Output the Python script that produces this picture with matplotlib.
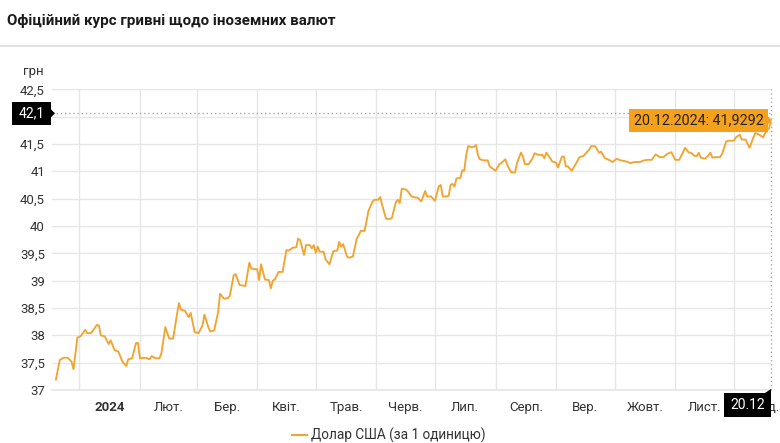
import matplotlib
matplotlib.use('Agg')
import matplotlib.pyplot as plt
import matplotlib.dates as mdates
from matplotlib.transforms import IdentityTransform
from matplotlib.patches import Rectangle, Polygon
from matplotlib.lines import Line2D
import numpy as np

plt.rcParams['font.family'] = ['Roboto', 'DejaVu Sans']

title = "Офіційний курс гривні щодо іноземних валют"
unit_label = "грн"
series_name = "Долар США (за 1 одиницю)"

dates = [
    "2023-12-20", "2023-12-22", "2023-12-24", "2023-12-26", "2023-12-28", "2023-12-29", "2023-12-31",
    "2024-01-01", "2024-01-02", "2024-01-04", "2024-01-05", "2024-01-07", "2024-01-10", "2024-01-11",
    "2024-01-12", "2024-01-14", "2024-01-16", "2024-01-17", "2024-01-19", "2024-01-21", "2024-01-23",
    "2024-01-25", "2024-01-26", "2024-01-28", "2024-01-30", "2024-01-31", "2024-02-01", "2024-02-04",
    "2024-02-06", "2024-02-07", "2024-02-09", "2024-02-11", "2024-02-12", "2024-02-14", "2024-02-16",
    "2024-02-18", "2024-02-20", "2024-02-21", "2024-02-22", "2024-02-24", "2024-02-26", "2024-02-27",
    "2024-02-29", "2024-03-02", "2024-03-04", "2024-03-05", "2024-03-07", "2024-03-08", "2024-03-10",
    "2024-03-12", "2024-03-13", "2024-03-15", "2024-03-17", "2024-03-18", "2024-03-20", "2024-03-21",
    "2024-03-23", "2024-03-25", "2024-03-26", "2024-03-28", "2024-03-29", "2024-03-31", "2024-04-01",
    "2024-04-02", "2024-04-03", "2024-04-05", "2024-04-07", "2024-04-08", "2024-04-09", "2024-04-10",
    "2024-04-12", "2024-04-14", "2024-04-16", "2024-04-17", "2024-04-18", "2024-04-19", "2024-04-21",
    "2024-04-22", "2024-04-23", "2024-04-25", "2024-04-26", "2024-04-28", "2024-04-29", "2024-04-30",
    "2024-05-01", "2024-05-02", "2024-05-03", "2024-05-05", "2024-05-06", "2024-05-08", "2024-05-10",
    "2024-05-12", "2024-05-13", "2024-05-14", "2024-05-15", "2024-05-17", "2024-05-18", "2024-05-20",
    "2024-05-22", "2024-05-23", "2024-05-24", "2024-05-26", "2024-05-28", "2024-05-30", "2024-05-31",
    "2024-06-02", "2024-06-03", "2024-06-04", "2024-06-06", "2024-06-08", "2024-06-09", "2024-06-11",
    "2024-06-12", "2024-06-13", "2024-06-14", "2024-06-16", "2024-06-17", "2024-06-19", "2024-06-21",
    "2024-06-22", "2024-06-24", "2024-06-26", "2024-06-27", "2024-06-29", "2024-07-01", "2024-07-03",
    "2024-07-04", "2024-07-05", "2024-07-07", "2024-07-08", "2024-07-09", "2024-07-10", "2024-07-11",
    "2024-07-12", "2024-07-14", "2024-07-15", "2024-07-16", "2024-07-17", "2024-07-18", "2024-07-20",
    "2024-07-21", "2024-07-22", "2024-07-23", "2024-07-24", "2024-07-26", "2024-07-28", "2024-07-29",
    "2024-08-01", "2024-08-03", "2024-08-04", "2024-08-06", "2024-08-07", "2024-08-09", "2024-08-11",
    "2024-08-12", "2024-08-14", "2024-08-15", "2024-08-16", "2024-08-18", "2024-08-20", "2024-08-21",
    "2024-08-23", "2024-08-25", "2024-08-26", "2024-08-27", "2024-08-29", "2024-08-30", "2024-09-01",
    "2024-09-02", "2024-09-04", "2024-09-05", "2024-09-06", "2024-09-07", "2024-09-09", "2024-09-11",
    "2024-09-13", "2024-09-15", "2024-09-16", "2024-09-18", "2024-09-19", "2024-09-21", "2024-09-23",
    "2024-09-24", "2024-09-26", "2024-09-28", "2024-09-30", "2024-10-02", "2024-10-04", "2024-10-07",
    "2024-10-09", "2024-10-11", "2024-10-14", "2024-10-16", "2024-10-18", "2024-10-20", "2024-10-22",
    "2024-10-24", "2024-10-26", "2024-10-28", "2024-10-30", "2024-10-31", "2024-11-01", "2024-11-03",
    "2024-11-05", "2024-11-06", "2024-11-08", "2024-11-09", "2024-11-11", "2024-11-12", "2024-11-13",
    "2024-11-14", "2024-11-16", "2024-11-17", "2024-11-19", "2024-11-20", "2024-11-22", "2024-11-24",
    "2024-11-25", "2024-11-27", "2024-11-28", "2024-12-01", "2024-12-02", "2024-12-04", "2024-12-05",
    "2024-12-07", "2024-12-09", "2024-12-11", "2024-12-12", "2024-12-14", "2024-12-16", "2024-12-17",
    "2024-12-19", "2024-12-20",
]
values = [
    37.19, 37.55, 37.59, 37.59, 37.52, 37.38, 37.96,
    37.97, 38.00, 38.10, 38.04, 38.04, 38.19, 38.18,
    38.00, 37.98, 37.84, 37.91, 37.73, 37.70, 37.52,
    37.44, 37.56, 37.58, 37.86, 37.86, 37.58, 37.59,
    37.56, 37.62, 37.58, 37.58, 37.67, 38.15, 37.94,
    37.94, 38.39, 38.59, 38.47, 38.45, 38.33, 38.41,
    38.06, 38.04, 38.18, 38.38, 38.15, 38.07, 38.09,
    38.42, 38.76, 38.67, 38.68, 38.72, 39.10, 39.12,
    38.92, 38.91, 38.90, 39.33, 39.22, 39.21, 39.21,
    39.01, 39.30, 39.02, 39.01, 38.86, 39.00, 39.02,
    39.16, 39.16, 39.56, 39.55, 39.57, 39.60, 39.61,
    39.77, 39.74, 39.47, 39.65, 39.65, 39.59, 39.65,
    39.51, 39.62, 39.53, 39.53, 39.39, 39.30, 39.54,
    39.55, 39.71, 39.62, 39.67, 39.44, 39.42, 39.44,
    39.77, 39.83, 39.91, 39.91, 40.28, 40.44, 40.48,
    40.48, 40.53, 40.38, 40.13, 40.13, 40.15, 40.44,
    40.48, 40.42, 40.68, 40.67, 40.64, 40.54, 40.52,
    40.52, 40.45, 40.64, 40.54, 40.54, 40.46, 40.73,
    40.75, 40.54, 40.54, 40.55, 40.75, 40.77, 40.72,
    40.87, 40.88, 41.02, 41.01, 41.30, 41.46, 41.44,
    41.45, 41.48, 41.30, 41.22, 41.20, 41.20, 41.09,
    41.01, 41.13, 41.15, 41.22, 41.12, 40.98, 40.98,
    41.15, 41.34, 41.28, 41.13, 41.13, 41.24, 41.33,
    41.30, 41.30, 41.24, 41.34, 41.24, 41.18, 41.16,
    41.07, 41.27, 41.27, 41.09, 41.09, 41.01, 41.13,
    41.26, 41.28, 41.32, 41.40, 41.46, 41.46, 41.34,
    41.36, 41.24, 41.21, 41.17, 41.23, 41.20, 41.18,
    41.15, 41.17, 41.17, 41.20, 41.21, 41.21, 41.31,
    41.26, 41.26, 41.32, 41.35, 41.28, 41.21, 41.21,
    41.35, 41.43, 41.34, 41.34, 41.28, 41.28, 41.34,
    41.25, 41.23, 41.25, 41.34, 41.25, 41.26, 41.26,
    41.32, 41.54, 41.56, 41.56, 41.62, 41.67, 41.58,
    41.58, 41.43, 41.62, 41.70, 41.67, 41.62, 41.70,
    41.79, 41.9292,
]

month_starts = ["2024-01-01", "2024-02-01", "2024-03-01", "2024-04-01", "2024-05-01", "2024-06-01",
                "2024-07-01", "2024-08-01", "2024-09-01", "2024-10-01", "2024-11-01", "2024-12-01",
                "2025-01-01"]
month_labels = ["2024", "Лют.", "Бер.", "Квіт.", "Трав.", "Черв.", "Лип.", "Серп.", "Вер.",
                "Жовт.", "Лист.", "Груд."]
y_ticks = [37, 37.5, 38, 38.5, 39, 39.5, 40, 40.5, 41, 41.5, 42, 42.5]
x_range = ["2023-12-18", "2024-12-20"]

crosshair_value = 42.06
crosshair_label = "42,1"
x_box_label = "20.12"
tooltip_text = "20.12.2024: 41,9292"

LINE_C = '#F2A431'
GRID_C = '#e6e6e6'
TXT_C = '#333333'

W, H = 780, 443
fig = plt.figure(figsize=(W / 100, H / 100), dpi=100)
ax = fig.add_axes([52 / W, 1 - 390 / H, (771 - 52) / W, (390 - 89.3) / H])

def dnum(s):
    return mdates.date2num(np.datetime64(s))

x = [dnum(d) for d in dates]
ax.plot(x, values, color=LINE_C, lw=1.35, solid_joinstyle='round', zorder=3)

ax.set_xlim(dnum(x_range[0]), dnum(x_range[1]))
ax.set_ylim(y_ticks[0], y_ticks[-1])
for s in ax.spines.values():
    s.set_visible(False)

ax.set_yticks(y_ticks)
ax.set_yticklabels([("%g" % v).replace('.', ',') for v in y_ticks])
ms = [dnum(m) for m in month_starts]
ax.set_xticks(ms[:-1])
ax.set_xticklabels([])
mids = [(a + b) / 2 for a, b in zip(ms[:-1], ms[1:])]
ax.set_xticks(mids, minor=True)
ax.set_xticklabels(month_labels, minor=True)
ax.grid(True, which='major', color=GRID_C, lw=1)
ax.set_axisbelow(True)
ax.axhline(y_ticks[0], color=GRID_C, lw=1.2, clip_on=False, zorder=1)
ax.tick_params(axis='both', which='both', length=0)
ax.tick_params(axis='y', pad=5, labelsize=9.5, labelcolor=TXT_C)
ax.tick_params(axis='x', which='minor', pad=8, labelsize=9.5, labelcolor=TXT_C)
for lab in ax.get_xticklabels(minor=True):
    if lab.get_text() == month_labels[0]:
        lab.set_fontweight('bold')

# crosshair
ax.axhline(crosshair_value, color='#a8a8a8', lw=1, ls=(0, (1, 2)), zorder=2)
ax.axvline(x[-1], color='#a8a8a8', lw=1, ls=(0, (1, 2)), zorder=2, clip_on=False)

fig.canvas.draw()
ident = IdentityTransform()
_, yc = ax.transData.transform((x[0], crosshair_value))
xl, yl = ax.transData.transform((x[-1], values[-1]))

# y crosshair label
fig.add_artist(Rectangle((12, yc - 11.5), 39, 23, facecolor='black', edgecolor='none',
                         transform=ident, zorder=5))
fig.add_artist(Polygon([(51, yc + 4), (55, yc), (51, yc - 4)], closed=True, facecolor='black',
                       edgecolor='none', transform=ident, zorder=5))
fig.text(31.5, yc, crosshair_label, color='white', fontsize=10, ha='center', va='center',
         transform=ident, zorder=6)

# x crosshair label
ybot = H - 390
fig.add_artist(Rectangle((xl - 47, ybot - 26.5), 47, 23.5, facecolor='black', edgecolor='none',
                         transform=ident, zorder=5))
fig.add_artist(Polygon([(xl - 6, ybot - 3), (xl, ybot + 1), (xl, ybot - 3)], closed=True,
                       facecolor='black', edgecolor='none', transform=ident, zorder=5))
fig.text(xl - 23.5, ybot - 15, x_box_label, color='white', fontsize=10, ha='center', va='center',
         transform=ident, zorder=6)

# tooltip
TIP_C = '#F6A11C'
fig.add_artist(Rectangle((xl - 142, yl - 11.5), 139, 23, facecolor=TIP_C, edgecolor='none',
                         transform=ident, zorder=5))
fig.add_artist(Polygon([(xl - 3, yl + 4), (xl + 1, yl), (xl - 3, yl - 4)], closed=True,
                       facecolor=TIP_C, edgecolor='none', transform=ident, zorder=5))
fig.text(xl - 72.5, yl, tooltip_text, color='#222222', fontsize=10.3, ha='center', va='center',
         transform=ident, zorder=6)

# title, separator, unit
fig.text(7, H - 21, title, color='#1a1a1a', fontsize=10.9, fontweight='bold', ha='left',
         va='center', transform=ident)
fig.add_artist(Line2D([0, W], [H - 46, H - 46], color='#e2e2e2', lw=1.5, transform=ident))
fig.text(33, H - 72, unit_label, color=TXT_C, fontsize=9.5, ha='center', va='center',
         transform=ident)

# legend
fig.add_artist(Line2D([292, 307], [H - 435, H - 435], color=LINE_C, lw=1.5, transform=ident))
fig.text(311, H - 435, series_name, color=TXT_C, fontsize=9.8, ha='left', va='center',
         transform=ident)

fig.savefig('out.png', dpi=100, facecolor='white')
